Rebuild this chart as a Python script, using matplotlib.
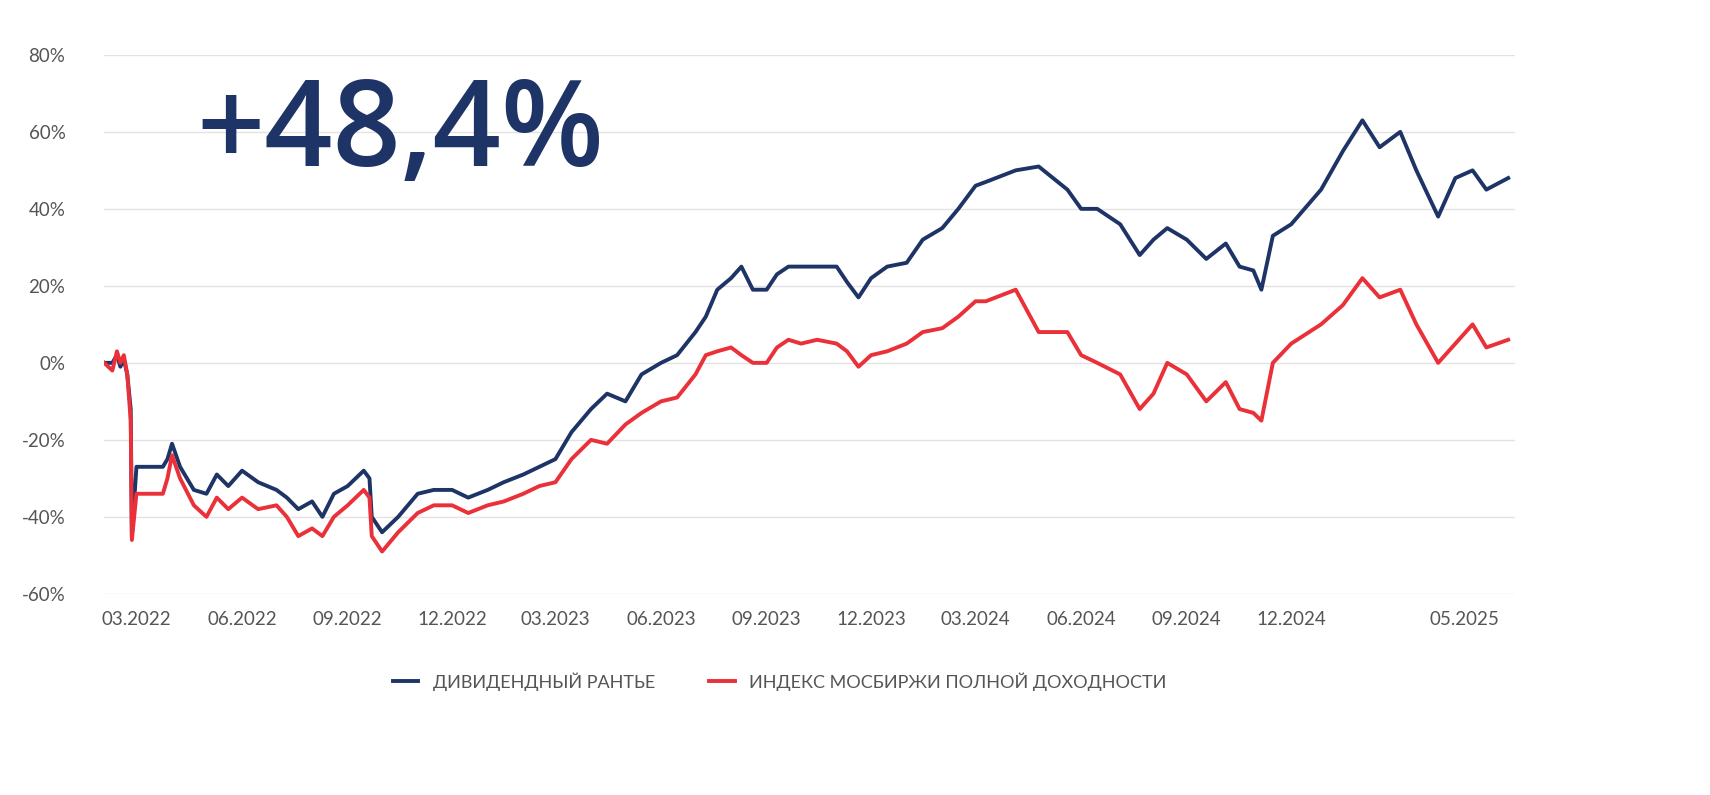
import matplotlib
matplotlib.use("Agg")
import matplotlib.pyplot as plt
import pandas as pd

dates = ["2022-02-01","2022-02-08","2022-02-12","2022-02-15","2022-02-18","2022-02-21","2022-02-24","2022-02-25","2022-03-01",
 "2022-03-24","2022-03-28","2022-04-01","2022-04-08","2022-04-20","2022-05-01","2022-05-10","2022-05-20","2022-06-01",
 "2022-06-15","2022-07-01","2022-07-10","2022-07-20","2022-08-01","2022-08-10","2022-08-20","2022-09-01","2022-09-15",
 "2022-09-20","2022-09-22","2022-10-01","2022-10-15","2022-11-01","2022-11-15","2022-12-01","2022-12-15","2023-01-01",
 "2023-01-15","2023-02-01","2023-02-15","2023-03-01","2023-03-15","2023-04-01","2023-04-15","2023-05-01","2023-05-15",
 "2023-06-01","2023-06-15","2023-07-01","2023-07-10","2023-07-20","2023-08-01","2023-08-10","2023-08-20","2023-09-01",
 "2023-09-10","2023-09-20","2023-10-01","2023-10-15","2023-11-01","2023-11-10","2023-11-20","2023-12-01","2023-12-15",
 "2024-01-01","2024-01-15","2024-02-01","2024-02-15","2024-03-01","2024-03-10","2024-04-05","2024-04-25","2024-05-20",
 "2024-06-01","2024-06-15","2024-07-05","2024-07-22","2024-08-03","2024-08-15","2024-09-01","2024-09-18","2024-10-05",
 "2024-10-17","2024-10-29","2024-11-05","2024-11-15","2024-12-01","2024-12-27","2025-01-15","2025-02-01","2025-02-16",
 "2025-03-06","2025-03-20","2025-04-08","2025-04-23","2025-05-08","2025-05-20","2025-06-08"]
rente = [0,0,2,-1,1,-3,-12,-45,-27,-27,-25,-21,-27,-33,-34,-29,-32,-28,-31,-33,-35,-38,-36,-40,-34,-32,-28,-30,-40,-44,
 -40,-34,-33,-33,-35,-33,-31,-29,-27,-25,-18,-12,-8,-10,-3,0,2,8,12,19,22,25,19,19,23,25,25,25,25,21,17,22,25,26,32,35,
 40,46,47,50,51,45,40,40,36,28,32,35,32,27,31,25,24,19,33,36,45,55,63,56,60,50,38,48,50,45,48]
moex = [0,-2,3,0,2,-3,-15,-46,-34,-34,-30,-24,-30,-37,-40,-35,-38,-35,-38,-37,-40,-45,-43,-45,-40,-37,-33,-35,-45,-49,
 -44,-39,-37,-37,-39,-37,-36,-34,-32,-31,-25,-20,-21,-16,-13,-10,-9,-3,2,3,4,2,0,0,4,6,5,6,5,3,-1,2,3,5,8,9,12,16,16,
 19,8,8,2,0,-3,-12,-8,0,-3,-10,-5,-12,-13,-15,0,5,10,15,22,17,19,10,0,5,10,4,6]
tick_dates = ["2022-03-01","2022-06-01","2022-09-01","2022-12-01","2023-03-01","2023-06-01","2023-09-01","2023-12-01",
              "2024-03-01","2024-06-01","2024-09-01","2024-12-01","2025-05-01"]
tick_labels = ["03.2022","06.2022","09.2022","12.2022","03.2023","06.2023","09.2023","12.2023",
               "03.2024","06.2024","09.2024","12.2024","05.2025"]
yticks = [-60,-40,-20,0,20,40,60,80]

BLUE = "#1e3467"; RED = "#ea3038"; GRAY = "#555555"
plt.rcParams["font.family"] = "Lato"
fig = plt.figure(figsize=(17.1, 7.95), dpi=100)
ax = fig.add_axes([0.061, 0.253, 0.825, 0.678])
d = pd.to_datetime(dates)
ax.plot(d, rente, color=BLUE, lw=2.8, label="ДИВИДЕНДНЫЙ РАНТЬЕ")
ax.plot(d, moex, color=RED, lw=2.8, label="ИНДЕКС МОСБИРЖИ ПОЛНОЙ ДОХОДНОСТИ")
ax.set_ylim(-60, 80)
ax.set_xlim(pd.Timestamp("2022-02-01"), pd.Timestamp("2025-06-14"))
ax.set_yticks(yticks)
ax.set_yticklabels([f"{v}%" for v in yticks])
ax.set_xticks(pd.to_datetime(tick_dates))
ax.set_xticklabels(tick_labels)
ax.grid(axis="y", color="#e2e2e2", lw=1)
ax.set_axisbelow(True)
for s in ax.spines.values():
    s.set_visible(False)
ax.tick_params(length=0, labelsize=13.5, colors=GRAY, pad=12)
ax.tick_params(axis="y", pad=28)
fig.text(0.115, 0.83, "+48,4%", fontsize=86, fontweight="semibold", family="Open Sans",
         color=BLUE, va="center", ha="left")
fig.legend(loc="center", bbox_to_anchor=(0.456, 0.143), ncol=2, frameon=False, fontsize=13,
           handlelength=1.4, columnspacing=3, labelcolor=GRAY)
fig.savefig("out.png", dpi=100, facecolor="white")
